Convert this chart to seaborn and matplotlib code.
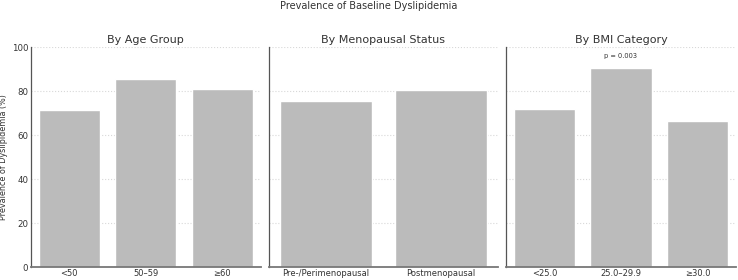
import matplotlib
matplotlib.use("Agg")
import matplotlib.pyplot as plt
import seaborn as sns
import pandas as pd

age_groups = ["<50", "50–59", "≥60"]
age_vals = [71.4, 85.5, 80.9]
meno_groups = ["Pre-/Perimenopausal", "Postmenopausal"]
meno_vals = [75.6, 80.5]
bmi_groups = ["<25.0", "25.0–29.9", "≥30.0"]
bmi_vals = [72.0, 90.3, 66.4]
panel_titles = ["By Age Group", "By Menopausal Status", "By BMI Category"]
p_label = "p = 0.003"
p_y = 96

sns.set_theme(style="white")
plt.rcParams['font.family'] = ['DejaVu Sans']

fig, axes = plt.subplots(1, 3, figsize=(7.38, 2.8), dpi=100, sharey=True)
fig.subplots_adjust(left=0.042, right=0.997, top=0.832, bottom=0.046, wspace=0.035)

panels = [(age_groups, age_vals), (meno_groups, meno_vals), (bmi_groups, bmi_vals)]
txt = "#333333"
for ax, (cats, vals), title in zip(axes, panels, panel_titles):
    df = pd.DataFrame({"cat": cats, "val": vals})
    sns.barplot(data=df, x="cat", y="val", ax=ax, color="#bbbbbb", saturation=1, width=0.8)
    ax.set_title(title, fontsize=8, color=txt, pad=3)
    ax.set_xlabel("")
    ax.set_ylabel("")
    ax.set_ylim(0, 100)
    ax.set_yticks([0, 20, 40, 60, 80, 100])
    ax.grid(axis="y", linestyle=":", color="#d8d8d8", linewidth=0.8)
    ax.set_axisbelow(True)
    for s in ["top", "right"]:
        ax.spines[s].set_visible(False)
    ax.spines["left"].set_color("#555555")
    ax.spines["left"].set_linewidth(0.9)
    ax.spines["bottom"].set_color("#777777")
    ax.spines["bottom"].set_linewidth(1.3)
    ax.tick_params(axis="both", direction="in", length=2.5, width=0.6, color="#666666",
                   labelsize=6.2, labelcolor=txt, pad=2)
    ax.tick_params(axis="x", labelsize=6, pad=1.5)

axes[0].set_ylabel("Prevalence of Dyslipidemia (%)", fontsize=5.8, color=txt)
axes[0].yaxis.set_label_coords(-0.1, 0.5)
axes[2].text(1, p_y, p_label, ha="center", va="center", fontsize=4.8, color=txt)
fig.suptitle("Prevalence of Baseline Dyslipidemia", fontsize=7, color=txt, y=0.998)

fig.savefig("out.png", dpi=100)
